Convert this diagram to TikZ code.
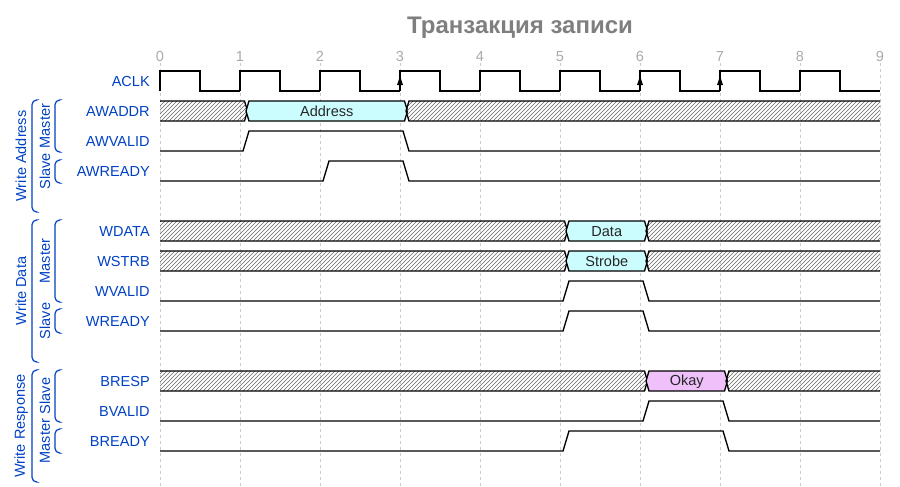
\documentclass[tikz,border=0pt]{standalone}
\usepackage{fontspec}
\setmainfont{Liberation Sans}
\usetikzlibrary{patterns}
\definecolor{wdblue}{HTML}{0041C4}
\definecolor{cyanfill}{HTML}{CCFDFE}
\definecolor{pinkfill}{HTML}{EFC0F9}
\definecolor{titlegray}{HTML}{7F7F7F}
\definecolor{tickgray}{HTML}{AAAAAA}
\definecolor{gridgray}{HTML}{CCCCCC}
\newcommand\busStart[3]{% top y, end x, fill
  \path[#3] (160,#1) -- (#2+4.5,#1) -- (#2+7.5,#1+10) -- (#2+4.5,#1+20) -- (160,#1+20) -- cycle;
  \draw[sig] (160,#1) -- (#2+4.5,#1) -- (#2+7.5,#1+10) -- (#2+4.5,#1+20) -- (160,#1+20);}
\newcommand\busMid[5]{% top y, start x, end x, fill, text
  \path[#4] (#2+6,#1+10) -- (#2+9,#1) -- (#3+4.5,#1) -- (#3+7.5,#1+10) -- (#3+4.5,#1+20) -- (#2+9,#1+20) -- cycle;
  \draw[sig] (#2+6,#1+10) -- (#2+9,#1) -- (#3+4.5,#1) -- (#3+7.5,#1+10) -- (#3+4.5,#1+20) -- (#2+9,#1+20) -- cycle;
  \node[datatext] at ({(#2+#3+13.5)/2},#1+10.5) {#5};}
\newcommand\busEnd[3]{% top y, start x, fill
  \path[#3] (880,#1) -- (#2+9,#1) -- (#2+6,#1+10) -- (#2+9,#1+20) -- (880,#1+20) -- cycle;
  \draw[sig] (880,#1) -- (#2+9,#1) -- (#2+6,#1+10) -- (#2+9,#1+20) -- (880,#1+20);}
\newcommand\pulse[3]{% top y, rise x, fall x
  \draw[sig] (160,#1+20) -- (#2+3,#1+20) -- (#2+9,#1) -- (#3+3,#1) -- (#3+9,#1+20) -- (880,#1+20);}
\begin{document}
\begin{tikzpicture}[x=0.75pt,y=-0.75pt,
  sig/.style={line width=1pt,black,line join=miter},
  hatch/.style={pattern=north east lines,pattern color=black!60},
  lbl/.style={anchor=east,text=wdblue,font=\fontsize{10.9pt}{12pt}\selectfont,inner sep=0pt},
  grp/.style={rotate=90,text=wdblue,font=\fontsize{10.9pt}{12pt}\selectfont,inner sep=0pt},
  brk/.style={draw=wdblue,line width=0.9pt,rounded corners=3.5pt},
  datatext/.style={font=\fontsize{10.9pt}{12pt}\selectfont,inner sep=0pt,text=black!85},
  tick/.style={text=tickgray,font=\fontsize{10.9pt}{12pt}\selectfont,inner sep=0pt}]
\useasboundingbox (0,0) rectangle (900,486);
% title
\node[font=\bfseries\fontsize{18pt}{20pt}\selectfont,text=titlegray,inner sep=0pt,anchor=base] (title) at (520,33) {Транзакция записи};
% grid and ticks
\foreach \k in {0,...,9}{
  \draw[gridgray,line width=0.7pt,dash pattern=on 2.25pt off 2.25pt] (160+80*\k,63) -- (160+80*\k,486);
  \node[tick] (t\k) at (160+80*\k,56.5) {\k};
}
% labels
\foreach \i/\name in {0/ACLK,1/AWADDR,2/AWVALID,3/AWREADY,5/WDATA,6/WSTRB,7/WVALID,8/WREADY,10/BRESP,11/BVALID,12/BREADY}{
  \node[lbl] (l\name) at (150,81.5+30*\i) {\name};
}
% clock
\foreach \k in {0,...,8}{
  \draw[sig] (160+80*\k,91) -- (160+80*\k,71) -- (200+80*\k,71) -- (200+80*\k,91) -- (240+80*\k,91);
}
\foreach \x in {400,640,720}{
  \fill (\x,76) -- (\x+3,85) -- (\x-3,85) -- cycle;
}
% AWADDR
\busStart{101}{240}{hatch}
\busMid{101}{240}{400}{fill=cyanfill}{Address}
\busEnd{101}{400}{hatch}
% AWVALID, AWREADY
\pulse{131}{240}{400}
\pulse{161}{320}{400}
% WDATA, WSTRB
\busStart{221}{560}{hatch}
\busMid{221}{560}{640}{fill=cyanfill}{Data}
\busEnd{221}{640}{hatch}
\busStart{251}{560}{hatch}
\busMid{251}{560}{640}{fill=cyanfill}{Strobe}
\busEnd{251}{640}{hatch}
% WVALID, WREADY
\pulse{281}{560}{640}
\pulse{311}{560}{640}
% BRESP
\busStart{371}{640}{hatch}
\busMid{371}{640}{720}{fill=pinkfill}{Okay}
\busEnd{371}{720}{hatch}
% BVALID, BREADY
\pulse{401}{640}{720}
\pulse{431}{560}{720}
% group brackets
\draw[brk] (36,100) -- (32,100) -- (32,212) -- (36,212);
\draw[brk] (36,220) -- (32,220) -- (32,362) -- (36,362);
\draw[brk] (36,370) -- (32,370) -- (32,482) -- (36,482);
\draw[brk] (59,100) -- (55,100) -- (55,152) -- (59,152);
\draw[brk] (59,160) -- (55,160) -- (55,183) -- (59,183);
\draw[brk] (59,220) -- (55,220) -- (55,302) -- (59,302);
\draw[brk] (59,309) -- (55,309) -- (55,333) -- (59,333);
\draw[brk] (59,370) -- (55,370) -- (55,422) -- (59,422);
\draw[brk] (59,429) -- (55,429) -- (55,453) -- (59,453);
\node[grp] (gWA) at (21,156) {Write Address};
\node[grp] (gWD) at (21,291) {Write Data};
\node[grp] (gWR) at (21,426) {Write Response};
\node[grp] (gWAm) at (45,126) {Master};
\node[grp] (gWAs) at (45,171.5) {Slave};
\node[grp] (gWDm) at (45,261) {Master};
\node[grp] (gWDs) at (45,321) {Slave};
\node[grp] (gWRs) at (45,396) {Slave};
\node[grp] (gWRm) at (45,441) {Master};
\end{tikzpicture}
\end{document}
